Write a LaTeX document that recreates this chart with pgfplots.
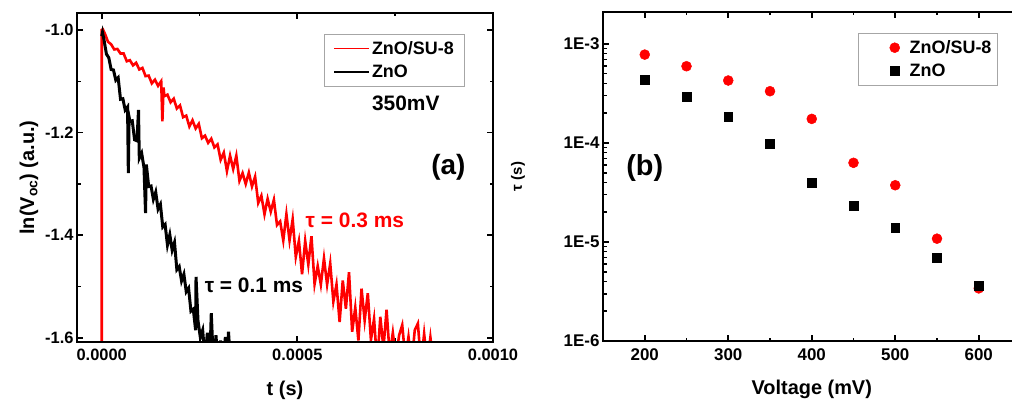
\documentclass[border=0pt]{standalone}
\usepackage{fontspec}
\setmainfont{Liberation Sans}
\usepackage{pgfplots}
\pgfplotsset{compat=1.18}

\definecolor{rd}{RGB}{255,0,0}

\pgfplotsset{
  orig/.style={
    scale only axis, anchor=south west,
    every axis plot/.append style={line width=1bp},
    after end axis/.code={\draw[line width=2.8bp] (rel axis cs:0,0) rectangle (rel axis cs:1,1);},
    tick align=inside, tick pos=both, ticklabel pos=left,
    major tick length=6bp, minor tick length=3.5bp,
    major tick style={line width=1.8bp, black},
    minor tick style={line width=1.5bp, black},
    /pgf/number format/assume math mode=true,
    tick label style={font=\bfseries\fontsize{16.5}{18}\selectfont},
    xticklabel style={yshift=-4bp},
    label style={font=\bfseries\fontsize{20}{22}\selectfont},
    xlabel style={yshift=-13bp},
    legend style={draw=gray!70, line width=0.8bp, fill=white,
      font=\bfseries\fontsize{18}{20}\selectfont, row sep=5bp,
      inner xsep=6bp, inner ysep=5bp},
    legend cell align=left,
    scaled ticks=false,
  }
}

\begin{document}
\begin{tikzpicture}
% (a) open-circuit voltage decay at 350 mV
\begin{axis}[orig,
    at={(77bp,61bp)}, width=416bp, height=329bp,
    xmin=-0.0000632, xmax=0.001, ymin=-1.608, ymax=-0.967,
    xtick={0,0.0005,0.001}, xticklabels={0.0000,0.0005,0.0010},
    ytick={-1.6,-1.4,-1.2,-1.0}, yticklabels={-1.6,-1.4,-1.2,-1.0},
    minor x tick num=1, minor y tick num=1,
    xlabel={t (s)}, ylabel={ln(V\textsubscript{oc}) (a.u.)},
    legend style={at={(0.933,0.936)}, anchor=north east, inner xsep=9bp},
    legend image code/.code={\draw[#1, line width=1.6bp] (0bp,0bp) -- (35bp,0bp);},
  ]
  \addplot[rd, line width=2.6bp] coordinates {
    (0,-1.70)(0,-1.000)(3e-6,-0.999)(8e-6,-1.007)(16e-6,-1.023)(24e-6,-1.028)
    (32e-6,-1.038)(40e-6,-1.037)(48e-6,-1.046)(56e-6,-1.046)(64e-6,-1.061)
    (72e-6,-1.059)(80e-6,-1.069)(88e-6,-1.064)(96e-6,-1.077)(104e-6,-1.074)
    (112e-6,-1.090)(120e-6,-1.089)(128e-6,-1.104)(136e-6,-1.097)(144e-6,-1.109)
    (152e-6,-1.100)(155e-6,-1.178)(158e-6,-1.112)(160e-6,-1.129)(168e-6,-1.126)
    (176e-6,-1.141)(184e-6,-1.134)(192e-6,-1.153)(200e-6,-1.147)(208e-6,-1.170)
    (216e-6,-1.167)(224e-6,-1.188)(232e-6,-1.176)(240e-6,-1.192)(248e-6,-1.183)
    (256e-6,-1.211)(264e-6,-1.206)(272e-6,-1.220)(280e-6,-1.212)(288e-6,-1.229)
    (296e-6,-1.223)(304e-6,-1.253)(312e-6,-1.239)(320e-6,-1.275)(328e-6,-1.245)
    (336e-6,-1.271)(344e-6,-1.245)(352e-6,-1.294)(360e-6,-1.279)(368e-6,-1.300)
    (376e-6,-1.278)(384e-6,-1.305)(392e-6,-1.286)(400e-6,-1.337)(408e-6,-1.323)
    (416e-6,-1.359)(424e-6,-1.329)(432e-6,-1.354)(440e-6,-1.331)(448e-6,-1.380)
    (456e-6,-1.373)(464e-6,-1.410)(472e-6,-1.359)(480e-6,-1.410)(488e-6,-1.369)
    (496e-6,-1.442)(504e-6,-1.411)(512e-6,-1.476)(520e-6,-1.411)(528e-6,-1.457)
    (536e-6,-1.402)(544e-6,-1.495)(552e-6,-1.460)(560e-6,-1.496)(568e-6,-1.445)
    (576e-6,-1.496)(584e-6,-1.455)(592e-6,-1.529)(600e-6,-1.496)(608e-6,-1.569)
    (616e-6,-1.488)(624e-6,-1.543)(632e-6,-1.472)(640e-6,-1.588)(648e-6,-1.541)
    (656e-6,-1.605)(664e-6,-1.504)(672e-6,-1.566)(680e-6,-1.513)(688e-6,-1.604)
    (696e-6,-1.563)(704e-6,-1.650)(712e-6,-1.559)(720e-6,-1.620)(728e-6,-1.545)
    (736e-6,-1.634)(744e-6,-1.590)(752e-6,-1.640)(760e-6,-1.595)(768e-6,-1.575)
    (776e-6,-1.640)(784e-6,-1.598)(792e-6,-1.650)(800e-6,-1.585)(808e-6,-1.572)
    (816e-6,-1.650)(824e-6,-1.592)(832e-6,-1.650)(840e-6,-1.599)(848e-6,-1.650)
  };
  \addlegendentry{ZnO/SU-8}
  \addplot[black, line width=3bp] coordinates {
    (0,-1.012)(2e-6,-1.005)(6e-6,-1.020)(12e-6,-1.047)(18e-6,-1.054)(24e-6,-1.077)
    (30e-6,-1.078)(36e-6,-1.098)(42e-6,-1.093)(48e-6,-1.135)(54e-6,-1.134)
    (60e-6,-1.156)(66e-6,-1.150)(68e-6,-1.279)(70e-6,-1.170)(72e-6,-1.178)
    (78e-6,-1.177)(84e-6,-1.214)(90e-6,-1.216)(94e-6,-1.156)(96e-6,-1.250)
    (102e-6,-1.240)(108e-6,-1.268)(112e-6,-1.357)(114e-6,-1.262)(120e-6,-1.305)
    (126e-6,-1.304)(132e-6,-1.330)(138e-6,-1.316)(144e-6,-1.349)(150e-6,-1.340)
    (156e-6,-1.384)(162e-6,-1.379)(168e-6,-1.419)(174e-6,-1.399)(180e-6,-1.429)
    (186e-6,-1.414)(192e-6,-1.467)(198e-6,-1.461)(204e-6,-1.489)(210e-6,-1.476)
    (216e-6,-1.510)(222e-6,-1.503)(228e-6,-1.548)(234e-6,-1.544)(240e-6,-1.585)
    (241e-6,-1.481)(246e-6,-1.566)(252e-6,-1.599)(258e-6,-1.585)(264e-6,-1.640)
    (270e-6,-1.590)(276e-6,-1.650)(280e-6,-1.552)(286e-6,-1.660)(292e-6,-1.595)
    (298e-6,-1.660)(304e-6,-1.605)(310e-6,-1.660)(316e-6,-1.598)(322e-6,-1.660)
    (324e-6,-1.588)(330e-6,-1.660)
  };
  \addlegendentry{ZnO}
  \node[font=\bfseries\fontsize{21}{24}\selectfont] at (axis cs:7.77e-4,-1.142) {350mV};
  \node[font=\bfseries\fontsize{28}{30}\selectfont] at (axis cs:8.86e-4,-1.267) {(a)};
  \node[rd, font=\bfseries\fontsize{21}{24}\selectfont] at (axis cs:6.47e-4,-1.370) {τ = 0.3 ms};
  \node[font=\bfseries\fontsize{21}{24}\selectfont] at (axis cs:3.89e-4,-1.497) {τ = 0.1 ms};
\end{axis}

% (b) lifetime against voltage
\begin{axis}[orig,
    at={(603bp,62bp)}, width=417.5bp, height=329bp,
    xmin=150, xmax=650, ymode=log, ymin=1e-6, ymax=2.1e-3,
    xtick={200,300,400,500,600}, minor x tick num=1,
    ytick={1e-6,1e-5,1e-4,1e-3}, yticklabels={1E-6,1E-5,1E-4,1E-3},
    tick label style={font=\bfseries\fontsize{17}{19}\selectfont},
    xlabel={Voltage (mV)}, ylabel={τ (s)},
    ylabel style={font=\bfseries\fontsize{15}{17}\selectfont, yshift=32bp},
    legend style={at={(0.9457,0.936)}, anchor=north east, inner xsep=4bp},
    legend image code/.code={\path[draw=none, fill=none] (0bp,-5bp) rectangle (45bp,5bp);
      \draw[#1] plot coordinates {(32bp,0bp)};},
  ]
  \addplot[only marks, mark=*, mark size=5, rd, mark options={draw=rd, fill=rd, line width=0.5bp}] coordinates {
    (200,7.8e-4)(250,5.95e-4)(300,4.27e-4)(350,3.33e-4)(400,1.75e-4)
    (450,6.3e-5)(500,3.74e-5)(550,1.08e-5)(600,3.4e-6)
  };
  \addlegendentry{ZnO/SU-8}
  \addplot[only marks, mark=square*, mark size=4.5, black, mark options={line width=0.5bp}] coordinates {
    (200,4.3e-4)(250,2.9e-4)(300,1.82e-4)(350,9.8e-5)(400,3.95e-5)
    (450,2.3e-5)(500,1.4e-5)(550,7.0e-6)(600,3.6e-6)
  };
  \addlegendentry{ZnO}
  \node[font=\bfseries\fontsize{29}{31}\selectfont] at (axis cs:200,5.55e-5) {(b)};
\end{axis}
\pgfresetboundingbox
\useasboundingbox (0bp,0bp) rectangle (1012bp,403bp);
\end{tikzpicture}
\end{document}
